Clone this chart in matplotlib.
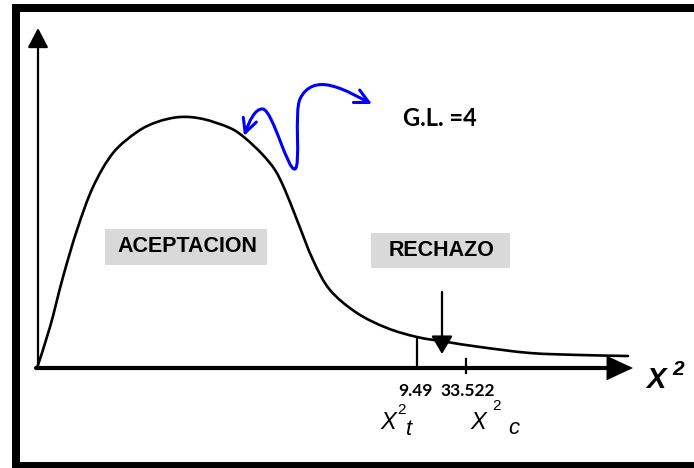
import matplotlib
matplotlib.use("Agg")
import matplotlib.pyplot as plt
from matplotlib.patches import Rectangle, FancyArrowPatch, ArrowStyle, PathPatch
from matplotlib.path import Path

# ---- data (diagram coordinates, in pixels of the 694x468 canvas, y downward) ----
curve_x = [37, 50, 63, 77, 93, 113, 137, 157, 180, 203, 230, 245, 262, 275, 285,
           297, 313, 330, 357, 387, 417, 447, 480, 530, 580, 628]
curve_y = [368, 327, 277, 230, 187, 153, 132, 122, 117, 119, 128, 138, 154, 170, 190,
           220, 260, 290, 313, 328, 337, 342, 347, 353, 355, 356]

tick_labels = ["9.49", "33.522"]
tick_pos = [417, 466]
tick_top = [338, 359]
tick_bottom = [368, 373]

region_labels = ["ACEPTACION", "RECHAZO"]
gl_label = "G.L. =4"

W, H = 694, 468
fig = plt.figure(figsize=(W / 100, H / 100), dpi=100)
ax = fig.add_axes([0, 0, 1, 1])
ax.set_xlim(0, W)
ax.set_ylim(H, 0)
ax.axis("off")

# frame (left, top, bottom black bands)
ax.add_patch(Rectangle((12, 4), 8, 464, fc="black", ec="none"))
ax.add_patch(Rectangle((12, 4), 682, 8, fc="black", ec="none"))
ax.add_patch(Rectangle((12, 462), 682, 6, fc="black", ec="none"))

# gray boxes
ax.add_patch(Rectangle((105, 229), 162, 36, fc="#d9d9d9", ec="none"))
ax.add_patch(Rectangle((371, 233), 139, 35, fc="#d9d9d9", ec="none"))

# axes arrows
ax.add_patch(FancyArrowPatch((38, 369), (38, 28),
                             arrowstyle=ArrowStyle("-|>", head_length=12, head_width=6.3),
                             mutation_scale=1, lw=1.6, color="black",
                             shrinkA=0, shrinkB=0))
ax.add_patch(FancyArrowPatch((36, 368), (633, 368),
                             arrowstyle=ArrowStyle("-|>", head_length=14, head_width=6.5),
                             mutation_scale=1, lw=3.0, color="black",
                             shrinkA=0, shrinkB=0, joinstyle="miter"))

# smooth curve through the read points (Catmull-Rom rendered as cubic Beziers)
pts = list(zip(curve_x, curve_y))
verts = [pts[0]]
codes = [Path.MOVETO]
for i in range(len(pts) - 1):
    p0 = pts[i - 1] if i > 0 else pts[i]
    p1 = pts[i]
    p2 = pts[i + 1]
    p3 = pts[i + 2] if i + 2 < len(pts) else pts[i + 1]
    c1 = (p1[0] + (p2[0] - p0[0]) / 6.0, p1[1] + (p2[1] - p0[1]) / 6.0)
    c2 = (p2[0] - (p3[0] - p1[0]) / 6.0, p2[1] - (p3[1] - p1[1]) / 6.0)
    verts += [c1, c2, p2]
    codes += [Path.CURVE4] * 3
ax.add_patch(PathPatch(Path(verts, codes), fc="none", ec="black", lw=1.9,
                       capstyle="round", joinstyle="round"))

# ticks
for xp, yt, yb in zip(tick_pos, tick_top, tick_bottom):
    ax.plot([xp, xp], [yt, yb], color="black", lw=1.6)

# down arrow
ax.add_patch(FancyArrowPatch((442, 292), (442, 354),
                             arrowstyle=ArrowStyle("-|>", head_length=11, head_width=6.5),
                             mutation_scale=1, lw=1.6, color="black",
                             shrinkA=0, shrinkB=0))

# blue squiggle
sq_verts = [(244, 136),
            (249, 122), (255, 108), (263, 109),
            (273, 111), (288, 172), (295, 169),
            (301, 166), (294, 112), (300, 99),
            (306, 86), (318, 82), (332, 86),
            (345, 89), (360, 98), (372, 104)]
sq_codes = [Path.MOVETO] + [Path.CURVE4] * 15
ax.add_patch(FancyArrowPatch(path=Path(sq_verts, sq_codes),
                             arrowstyle=ArrowStyle("<->", head_length=10, head_width=5),
                             mutation_scale=1, lw=2.2, color="#0000ff"))

# texts
bold_font = ["Lato", "DejaVu Sans"]
ax.text(187, 246, region_labels[0], ha="center", va="center", fontsize=15.5,
        fontweight="bold", family="Liberation Sans")
ax.text(442, 250, region_labels[1], ha="center", va="center", fontsize=15.5,
        fontweight="bold", family="Liberation Sans")
ax.text(440, 119, gl_label, ha="center", va="center", fontsize=17,
        fontweight="bold", family=bold_font)

for lab, xp in zip(tick_labels, [415, 468]):
    ax.text(xp, 391, lab, ha="center", va="center", fontsize=12.5,
            fontweight="bold", family=bold_font)

# X^2 axis label
ax.text(646, 388, "X", ha="left", va="baseline", fontsize=21, fontweight="bold",
        fontstyle="italic", family="Liberation Sans")
ax.text(672, 375, "2", ha="left", va="baseline", fontsize=15, fontweight="bold",
        fontstyle="italic", family="Liberation Sans")

# X^2_t and X^2_c
ax.text(380, 429, "X", ha="left", va="baseline", fontsize=17,
        fontstyle="italic", family="Liberation Sans")
ax.text(397, 414, "2", ha="left", va="baseline", fontsize=11, family="Liberation Sans")
ax.text(406, 435, "t", ha="left", va="baseline", fontsize=16,
        fontstyle="italic", family="Liberation Sans")

ax.text(470, 429, "X", ha="left", va="baseline", fontsize=17,
        fontstyle="italic", family="Liberation Sans")
ax.text(492, 410, "2", ha="left", va="baseline", fontsize=11, family="Liberation Sans")
ax.text(508, 434, "c", ha="left", va="baseline", fontsize=16,
        fontstyle="italic", family="Liberation Sans")

fig.savefig("out.png", dpi=100)
